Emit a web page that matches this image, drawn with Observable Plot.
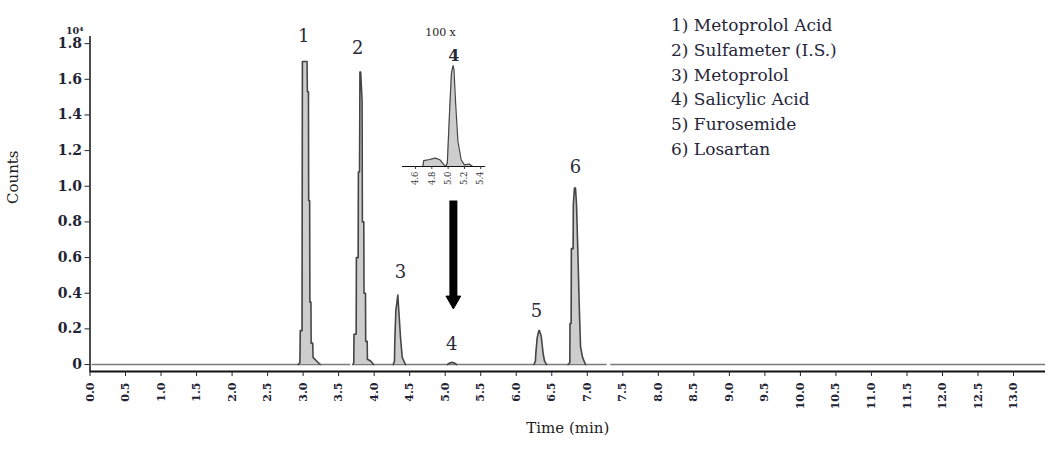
<!DOCTYPE html>
<html><head><meta charset="utf-8">
<script src="https://cdn.jsdelivr.net/npm/d3@7"></script>
<script src="https://cdn.jsdelivr.net/npm/@observablehq/plot@0.6"></script>
<style>
body{margin:0;background:#fff;}
#wrap{position:relative;width:1050px;height:456px;overflow:hidden;font-family:"DejaVu Serif",serif;}
#main{position:absolute;left:0;top:0;}
#legend{position:absolute;left:671px;top:13px;font-size:17px;line-height:24.8px;color:#26263a;white-space:pre;font-family:"DejaVu Serif",serif;}
#inset{position:absolute;left:395px;top:20px;}
</style></head><body><div id="wrap"><div id="main"></div><div id="inset"></div><div id="legend"></div></div>
<script>
// ---- data ----
const xTicks = [0.0,0.5,1.0,1.5,2.0,2.5,3.0,3.5,4.0,4.5,5.0,5.5,6.0,6.5,7.0,7.5,8.0,8.5,9.0,9.5,10.0,10.5,11.0,11.5,12.0,12.5,13.0];
const yTicks = [0,0.2,0.4,0.6,0.8,1.0,1.2,1.4,1.6,1.8];
const insetTicks = [4.6,4.8,5.0,5.2,5.4];

const legendItems = ["1) Metoprolol Acid","2) Sulfameter (I.S.)","3) Metoprolol","4) Salicylic Acid","5) Furosemide","6) Losartan"];
const peakNums = ["1","2","3","4","5","6"];
const peakLabelTime = [3.01,3.77,4.37,5.09,6.285,6.834];
const peakLabelCounts = [1.84,1.775,0.515,0.115,0.297,1.105];

// chromatogram peaks (time in min, counts in 10^4)
const p1Time = [2.93,2.955,2.96,2.985,2.99,3.055,3.06,3.075,3.078,3.092,3.095,3.11,3.113,3.135,3.14,3.19,3.24];
const p1Counts = [0,0.01,0.19,0.19,1.70,1.70,1.53,1.53,0.92,0.92,0.35,0.35,0.12,0.12,0.04,0.02,0];
const p2Time = [3.70,3.713,3.716,3.747,3.75,3.775,3.778,3.794,3.80,3.81,3.83,3.834,3.854,3.857,3.878,3.881,3.902,3.905,3.95,3.99];
const p2Counts = [0,0.01,0.17,0.17,0.60,0.60,1.08,1.08,1.64,1.64,1.48,0.80,0.80,0.40,0.40,0.13,0.13,0.03,0.02,0];
const p3Time = [4.27,4.286,4.29,4.305,4.324,4.333,4.347,4.371,4.395,4.44];
const p3Counts = [0,0.02,0.12,0.30,0.36,0.39,0.30,0.15,0.04,0];
const p4Time = [5.03,5.06,5.09,5.12,5.16];
const p4Counts = [0,0.008,0.012,0.01,0];
const p5Time = [6.25,6.27,6.275,6.295,6.318,6.327,6.351,6.379,6.398,6.426];
const p5Counts = [0,0.02,0.06,0.15,0.19,0.19,0.16,0.06,0.02,0];
const p6Time = [6.73,6.754,6.757,6.773,6.776,6.801,6.804,6.82,6.834,6.848,6.866,6.886,6.905,6.933,6.975];
const p6Counts = [0,0.01,0.23,0.23,0.65,0.65,0.90,0.99,0.99,0.90,0.65,0.34,0.10,0.04,0];

// baseline segments of the trace
const segStart = [0.03,3.71,7.33];
const segEnd = [3.67,7.28,13.45];

// 100x zoom of peak 4
const insetTime = [4.44,4.69,4.70,4.76,4.84,4.90,4.95,4.97,4.99,5.02,5.04,5.06,5.072,5.092,5.12,5.16,5.20,5.26,5.30,5.45];
const insetCounts = [0,0,0.07,0.08,0.10,0.08,0.02,0,0.04,0.7,1.1,1.2,1.15,0.75,0.30,0.08,0.02,0.03,0,0];

// arrow annotation (time, counts)
const arrowTime = [5.115];
const arrowTop = [0.92];
const arrowShaftEnd = [0.377];
const arrowHead = [0.36];

// ---- build ----
const peaks = [[p1Time,p1Counts],[p2Time,p2Counts],[p3Time,p3Counts],[p4Time,p4Counts],[p5Time,p5Counts],[p6Time,p6Counts]];
const trace = peaks.flatMap(([t,c],i)=>t.map((ti,j)=>({time:ti,counts:c[j],peak:i+1})));
const segments = segStart.map((s,i)=>({start:s,end:segEnd[i]}));
const insetData = insetTime.map((t,i)=>({time:t,counts:insetCounts[i]}));
const peakLabels = peakNums.map((n,i)=>({n,time:peakLabelTime[i],counts:peakLabelCounts[i]}));
const arrow = arrowTime.map((t,i)=>({time:t,top:arrowTop[i],end:arrowShaftEnd[i],head:arrowHead[i]}));

const yMin = -0.039, yMax = 1.84;
const textColor = "#1f2333";

const main = Plot.plot({
  width:1050, height:456,
  marginLeft:89.5, marginRight:5, marginTop:36, marginBottom:85,
  style:{fontFamily:"'DejaVu Serif', serif", background:"transparent", overflow:"visible"},
  x:{domain:[0,13.45]},
  y:{domain:[yMin,yMax]},
  marks:[
    Plot.ruleY(segments,{y:0,x1:"start",x2:"end",stroke:"#7a7a7a",strokeWidth:1.5}),
    Plot.areaY(trace,{x:"time",y:"counts",z:"peak",fill:"#cdcdcd"}),
    Plot.line(trace,{x:"time",y:"counts",z:"peak",stroke:"#454545",strokeWidth:1.6}),
    Plot.ruleX([0],{stroke:"#111",strokeWidth:1.5}),
    Plot.ruleY([yMin],{stroke:"#111",strokeWidth:2}),
    Plot.axisX({ticks:xTicks,tickFormat:d=>d.toFixed(1),tickRotate:-90,tickSize:5,tickPadding:6,fontSize:11,fontWeight:"bold",color:textColor,label:null}),
    Plot.axisY({ticks:yTicks,tickFormat:d=>d===0?"0":d.toFixed(1),tickSize:5,tickPadding:3,fontSize:14,fontWeight:"bold",color:textColor,label:null}),
    Plot.text(peakLabels,{x:"time",y:"counts",text:"n",fontSize:18,fill:"#2b2b38"}),
    Plot.link(arrow,{x1:"time",x2:"time",y1:"top",y2:"end",stroke:"#000",strokeWidth:8}),
    Plot.dot(arrow,{x:"time",y:"head",symbol:"triangle",rotate:180,r:5.5,fill:"#000",stroke:"#000",strokeWidth:1}),
    Plot.text(["Time (min)"],{frameAnchor:"bottom",dy:61,fontSize:15,fill:"#222"}),
    Plot.text(["Counts"],{frameAnchor:"left",dx:-77,rotate:-90,fontSize:15,fill:"#222"}),
    Plot.text(["10⁴"],{frameAnchor:"top-left",dx:-24,dy:-9,fontSize:9.5,fontWeight:"bold",fill:textColor})
  ]
});
document.getElementById("main").append(main);

const inset = Plot.plot({
  width:100, height:170,
  marginLeft:7, marginRight:10.7, marginTop:45, marginBottom:24,
  style:{fontFamily:"'DejaVu Serif', serif", background:"transparent", overflow:"visible"},
  x:{domain:[4.44,5.45]},
  y:{domain:[0,1.2], axis:null},
  marks:[
    Plot.areaY(insetData,{x:"time",y:"counts",fill:"#cdcdcd"}),
    Plot.line(insetData,{x:"time",y:"counts",stroke:"#454545",strokeWidth:1.2}),
    Plot.ruleY([0],{stroke:"#111",strokeWidth:1}),
    Plot.axisX({ticks:insetTicks,tickFormat:d=>d.toFixed(1),tickRotate:-90,tickSize:3,tickPadding:2,fontSize:8.5,color:"#333",label:null}),
    Plot.text(["100 x"],{x:[4.906],y:[1.59],fontSize:11,fill:"#222"}),
    Plot.text(["4"],{x:[5.07],y:[1.32],fontSize:16,fontWeight:"bold",fill:"#2b2b38"})
  ]
});
document.getElementById("inset").append(inset);

document.getElementById("legend").textContent = legendItems.join("\n");
</script>
</body></html>
